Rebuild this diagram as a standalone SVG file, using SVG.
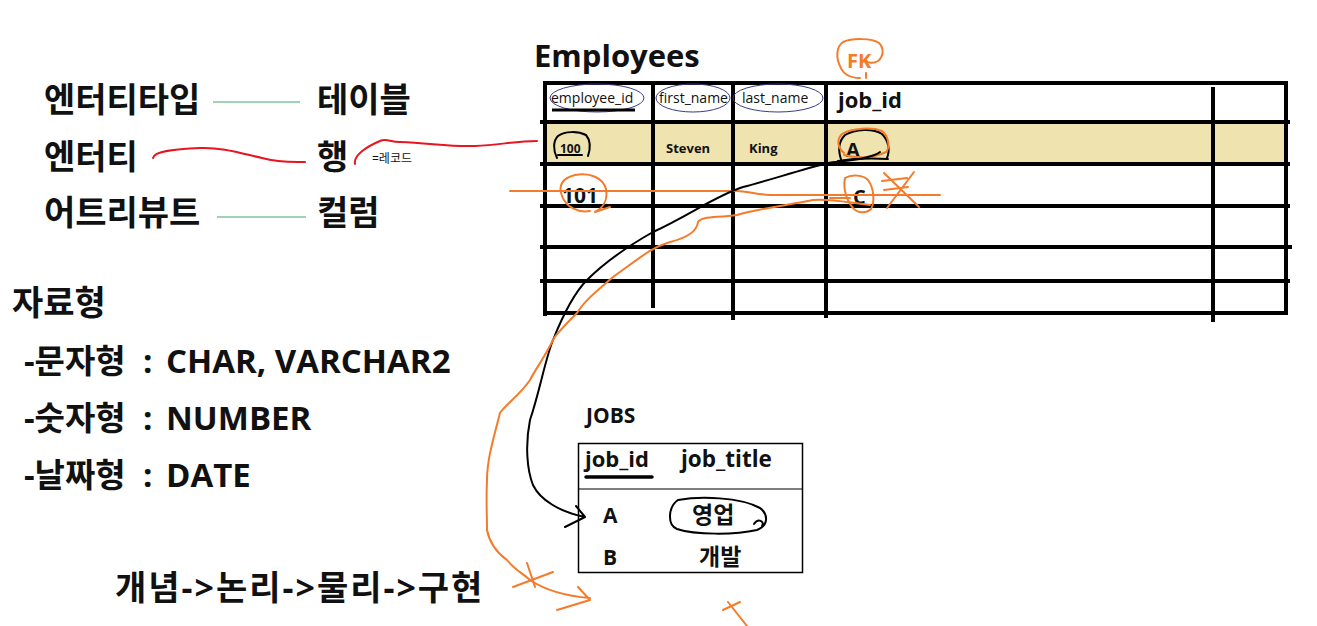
<svg xmlns="http://www.w3.org/2000/svg" width="1317" height="626" viewBox="0 0 1317 626">
<style>
  .ko { font-family: "Open Sans", "Noto Sans CJK KR", sans-serif; font-weight: 700; fill: #111; }
  .big { font-size: 34px; }
  .mix { font-size: 33px; }
  .hdr { font-family: "Open Sans", "Noto Sans CJK KR", sans-serif; font-size: 14px; fill: #111; }
  .cell { font-family: "Open Sans", "Noto Sans CJK KR", sans-serif; font-weight: 700; fill: #111; }
  .grid { stroke: #000; stroke-width: 4; fill: none; stroke-linecap: butt; }
  .ink { fill: none; stroke: #000; stroke-width: 2; stroke-linecap: round; stroke-linejoin: round; }
  .org { fill: none; stroke: #f47b2a; stroke-width: 2; stroke-linecap: round; stroke-linejoin: round; }
  .red { fill: none; stroke: #e8141e; stroke-width: 2; stroke-linecap: round; stroke-linejoin: round; }
  .grn { fill: none; stroke: #7fc39a; stroke-width: 1.5; }
  .blu { fill: none; stroke: #3a3a8c; stroke-width: 1; }
</style>
<rect width="1317" height="626" fill="#ffffff"/>

<g id="concepts">
  <text class="ko big" x="44" y="112">엔터티타입</text>
  <text class="ko big" x="44" y="169">엔터티</text>
  <text class="ko big" x="44" y="225">어트리뷰트</text>
  <text class="ko big" x="317" y="112">테이블</text>
  <text class="ko big" x="317" y="169">행</text>
  <text class="ko big" x="317" y="225">컬럼</text>
  <text class="ko" x="372" y="163" style="font-size:12px;font-weight:400">=레코드</text>
</g>

<g id="datatypes">
  <text class="ko big" x="12" y="315">자료형</text>
  <text class="ko mix" y="373"><tspan x="24">-문자형</tspan><tspan x="143">:</tspan><tspan x="166">CHAR, VARCHAR2</tspan></text>
  <text class="ko mix" y="430"><tspan x="24">-숫자형</tspan><tspan x="143">:</tspan><tspan x="166">NUMBER</tspan></text>
  <text class="ko mix" y="487"><tspan x="24">-날짜형</tspan><tspan x="143">:</tspan><tspan x="166">DATE</tspan></text>
  <text class="ko big" x="115" y="600" style="letter-spacing:2px">개념-&gt;논리-&gt;물리-&gt;구현</text>
</g>

<g id="employees">
  <text class="cell" x="534" y="67" style="font-size:31px">Employees</text>
  <rect x="547" y="124" width="737" height="38" fill="#efe3b0"/>
  <path class="grid" d="M543,83 H1287 M545,81 V316 M1286,81 V315 M543,313 H1287 M540,122 H1290 M540,164 H1290 M540,206 H1290 M540,247 H1292 M540,281 H1290 M653,83 V308 M733,83 V320 M826,83 V318 M1213,87 V322"/>
  <ellipse class="blu" cx="597" cy="98" rx="47" ry="14"/>
  <ellipse class="blu" cx="693" cy="98" rx="37" ry="14"/>
  <ellipse class="blu" cx="778" cy="98" rx="45" ry="14"/>
  <text class="hdr" x="551" y="103">employee_id</text>
  <line x1="552" y1="110" x2="635" y2="110" stroke="#000" stroke-width="3"/>
  <text class="hdr" x="659" y="103">first_name</text>
  <text class="hdr" x="742" y="103">last_name</text>
  <text class="cell" x="838" y="108" style="font-size:22px">job_id</text>
  <text class="cell" x="560" y="153" style="font-size:12px">100</text>
  <text class="cell" x="666" y="153" style="font-size:13px">Steven</text>
  <text class="cell" x="749" y="153" style="font-size:13px">King</text>
  <text class="cell" x="846" y="157" style="font-size:20px">A</text>
  <text class="cell" x="562" y="203" style="font-size:21px">101</text>
  <text class="cell" x="853" y="204" style="font-size:20px">C</text>
  <text x="847" y="68" style="font-family:'Open Sans',sans-serif;font-weight:700;font-size:20px;fill:#f47b2a">FK</text>
</g>

<g id="jobs">
  <text class="cell" x="586" y="423" style="font-size:21px">JOBS</text>
  <rect x="578.5" y="443.5" width="224" height="129" fill="none" stroke="#000" stroke-width="1.5"/>
  <line x1="578" y1="489" x2="803" y2="489" stroke="#000" stroke-width="1.2"/>
  <text class="cell" x="585" y="467" style="font-size:22px">job_id</text>
  <line x1="586" y1="477" x2="652" y2="477" stroke="#000" stroke-width="3.5" stroke-linecap="round"/>
  <text class="cell" x="681" y="467" style="font-size:22.5px">job_title</text>
  <text class="cell" x="603" y="523" style="font-size:21px">A</text>
  <text class="ko" x="692" y="523" style="font-size:23px">영업</text>
  <text class="cell" x="603" y="565" style="font-size:21px">B</text>
  <text class="ko" x="699" y="565" style="font-size:23px">개발</text>
</g>

<g id="annotations">
  <path class="ink" d="M557,158 C553,150 553,141 558,136 C565,131 578,131 586,135 C591,141 590,150 588,156 M558,155 H582"/>
  <path class="ink" d="M842,162 C838,152 838,142 845,135 C855,129 873,128 882,134 C889,141 890,151 887,158 M838,161 C850,159 868,158 888,159"/>
  <path class="ink" d="M678,500 C668,507 667,525 677,529 C695,535 735,535 757,530 C768,526 769,515 760,508 C740,497 700,496 678,500 M754,524 C758,518 765,521 762,526"/>
  <path class="org" d="M860,78 C850,78 843,74 840,66 C836,58 836,47 843,42 C852,38 872,38 879,43 C884,48 884,56 878,61 C873,64 867,63 866,60 M866,73 V78"/>
  <path class="org" d="M844,153 C838,148 836,140 842,134 C852,128 872,127 882,131 C889,136 890,148 886,152 C876,157 858,159 844,155"/>
  <path class="org" d="M590,211 C578,213 566,207 562,196 C558,186 562,178 575,175 C590,172 603,178 606,189 C608,200 603,208 595,212 L610,207"/>
  <path class="org" d="M845,178 C852,174 863,175 868,180 C874,188 875,202 871,209 C866,214 857,213 853,208 C846,200 843,188 845,178"/>
  <path class="org" d="M884,173 L919,207 M914,172 L887,208 M882,181 L907,178 M884,190 L908,187"/>
  <path class="org" d="M510,191 H737 C748,191 752,194 770,195 H940 M830,198 H850"/>
  <path class="org" d="M513,587 L553,572 M527,563 L535,587 M723,610 L740,602 M728,602 L747,626"/>
</g>

<g id="connectors">
  <path class="grn" d="M213,102 H300 M217,217 H306"/>
  <path class="red" d="M153,158 C154,151 175,149 200,148 C220,147 240,153 262,158 C280,163 295,162 305,162"/>
  <path class="red" d="M355,164 C353,155 368,146 380,141 C386,138 390,142 400,142 C430,143 450,147 475,146 C500,145 515,141 537,141"/>
  <path class="ink" d="M880,152 C870,160 840,161 828,163 C800,170 770,180 743,187 C715,196 690,215 653,232 C630,245 605,262 587,280 C575,292 565,310 553,340 C545,360 540,390 530,420 C525,445 527,470 533,485 C540,500 560,512 585,517 M576,506 L585,517 L565,527"/>
  <path class="org" d="M870,205 C850,203 830,198 813,200 C790,205 760,208 737,215 C715,218 702,216 698,222 C697,232 686,238 670,242 C650,248 640,258 613,277 C598,290 585,300 577,313 C565,325 555,335 553,340 C543,360 535,370 530,380 C520,395 505,405 500,413 C493,440 487,460 487,480 C486,500 487,515 487,530 C490,545 500,555 507,560 C515,570 525,575 530,580 C545,590 565,596 590,598 M578,587 L590,600 L557,610"/>
</g>
</svg>
